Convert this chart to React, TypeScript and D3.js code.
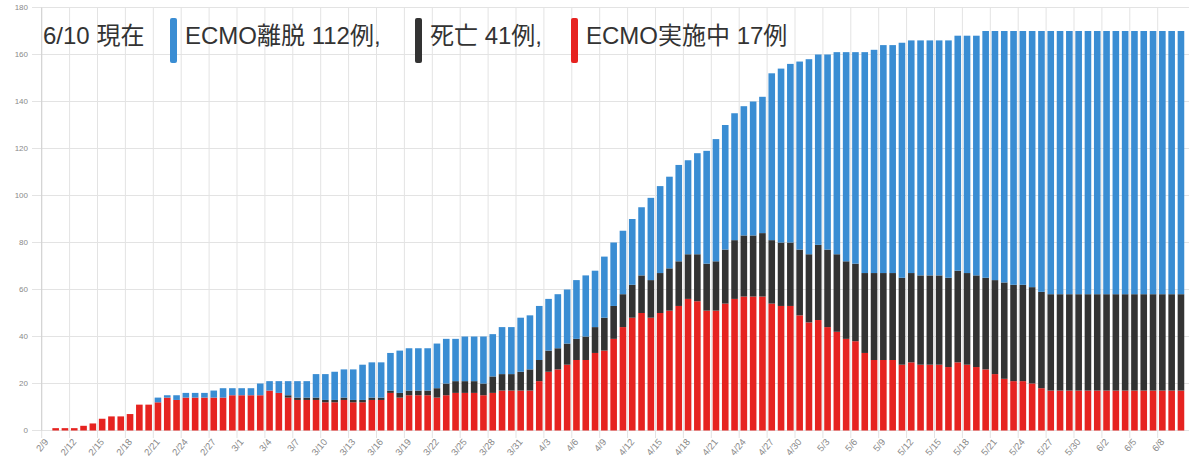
import React from 'react';
import * as d3 from 'd3';

// ECMO実施中 (bottom, red)
const active = [
  0, 1, 1, 1, 2, 3, 5, 6, 6, 7,
  11, 11, 12, 14, 13, 14, 14, 14, 14, 14,
  15, 15, 15, 15, 17, 16, 14, 13, 13, 13,
  12, 12, 13, 12, 12, 13, 13, 16, 14, 15,
  15, 15, 14, 15, 16, 16, 16, 15, 16, 17,
  17, 17, 17, 21, 25, 26, 28, 30, 30, 33,
  34, 39, 44, 48, 50, 48, 50, 51, 53, 56,
  55, 51, 51, 54, 56, 57, 57, 57, 54, 53,
  53, 49, 46, 47, 44, 42, 39, 38, 33, 30,
  30, 30, 28, 29, 28, 28, 28, 27, 29, 28,
  27, 26, 24, 22, 21, 21, 20, 18, 17, 17,
  17, 17, 17, 17, 17, 17, 17, 17, 17, 17,
  17, 17, 17,
];

// 死亡 (middle, black)
const deaths = [
  0, 0, 0, 0, 0, 0, 0, 0, 0, 0,
  0, 0, 0, 0, 0, 0, 0, 0, 0, 0,
  0, 0, 0, 0, 0, 0, 1, 1, 1, 1,
  1, 1, 1, 1, 1, 1, 1, 1, 2, 2,
  2, 2, 4, 5, 5, 5, 5, 5, 7, 7,
  7, 8, 9, 9, 9, 9, 9, 9, 10, 11,
  14, 14, 14, 14, 16, 16, 17, 18, 19, 19,
  20, 20, 21, 23, 25, 26, 26, 27, 27, 27,
  27, 28, 29, 32, 33, 33, 33, 33, 34, 37,
  37, 37, 37, 38, 38, 38, 38, 38, 39, 39,
  39, 39, 40, 41, 41, 41, 41, 41, 41, 41,
  41, 41, 41, 41, 41, 41, 41, 41, 41, 41,
  41, 41, 41,
];

// ECMO離脱 (top, blue)
const weaned = [
  0, 0, 0, 0, 0, 0, 0, 0, 0, 0,
  0, 0, 2, 1, 2, 2, 2, 2, 3, 4,
  3, 3, 3, 5, 4, 5, 6, 7, 7, 10,
  11, 12, 12, 13, 15, 15, 15, 16, 18, 18,
  18, 18, 19, 19, 18, 19, 19, 20, 18, 20,
  20, 23, 23, 23, 22, 23, 23, 25, 26, 24,
  26, 27, 27, 28, 29, 35, 37, 39, 41, 40,
  43, 48, 52, 53, 54, 55, 57, 58, 71, 74,
  76, 80, 83, 81, 83, 86, 89, 90, 94, 95,
  97, 97, 100, 99, 100, 100, 100, 101, 100, 101,
  102, 105, 106, 107, 108, 108, 109, 111, 112, 112,
  112, 112, 112, 112, 112, 112, 112, 112, 112, 112,
  112, 112, 112,
];

const dates = d3.timeDay.range(new Date(2020, 1, 9), new Date(2020, 5, 11));
const fmt = d3.timeFormat('%-m/%-d');
const categories = dates.map((d) => fmt(d));
const tickEvery = 3;
const yTicks = [0, 20, 40, 60, 80, 100, 120, 140, 160, 180];

const title = '6/10 現在';
const legendLabels = ['ECMO離脱 112例,', '死亡 41例,', 'ECMO実施中 17例'];
const seriesKeys = ['active', 'deaths', 'weaned'];

export default function App() {
  const W = 1189;
  const H = 466;
  const colors: Record<string, string> = {
    active: '#e62320',
    deaths: '#333333',
    weaned: '#3a8dd3',
  };
  const x = d3.scaleBand<string>().domain(categories).range([41.7, 1185.6]).padding(0);
  const y = d3.scaleLinear().domain([0, 180]).range([430.5, 7.5]);
  const rows = categories.map((c, i) => ({ cat: c, active: active[i], deaths: deaths[i], weaned: weaned[i] }));
  const stacked = d3.stack<any>().keys(seriesKeys)(rows);
  const bw = 6.6;
  const off = (x.bandwidth() - bw) / 2;
  const tickCats = categories.filter((_, i) => i % tickEvery === 0);
  const font = "'Liberation Sans', Arial, 'Noto Sans CJK JP', sans-serif";
  const legendColors = [colors.weaned, colors.deaths, colors.active];
  const legendSwatchX = [170, 415, 571];
  return (
    <div>
      <style>{`body{margin:0;background:#fff}`}</style>
      <svg width={W} height={H} style={{ display: 'block', background: '#fff' }}>
        {/* horizontal grid */}
        {yTicks.map((t) => (
          <line key={'h' + t} x1={32} x2={W} y1={y(t)} y2={y(t)} stroke="#e3e3e3" strokeWidth={1} />
        ))}
        {/* vertical grid */}
        {tickCats.map((c) => (
          <line key={'v' + c} x1={x(c)!} x2={x(c)!} y1={y(180)} y2={438} stroke="#e3e3e3" strokeWidth={1} />
        ))}
        <line x1={x(categories[0])!} x2={x(categories[0])!} y1={y(180)} y2={y(0)} stroke="#d0d0d0" />
        {/* bars */}
        {stacked.map((s) => (
          <g key={s.key} fill={colors[s.key]}>
            {s.map((d, i) =>
              d[1] - d[0] > 0 ? (
                <rect
                  key={i}
                  x={x(categories[i])! + off}
                  width={bw}
                  y={y(d[1])}
                  height={y(d[0]) - y(d[1])}
                />
              ) : null
            )}
          </g>
        ))}
        {/* y labels */}
        {yTicks.map((t) => (
          <text key={'yl' + t} x={28} y={y(t)} dy="0.35em" textAnchor="end" fontSize={8} fill="#8a8a8a" fontFamily={font}>
            {t}
          </text>
        ))}
        {/* x labels */}
        {tickCats.map((c) => {
          const cx = x(c)! + x.bandwidth() / 2;
          return (
            <text
              key={'xl' + c}
              transform={`translate(${cx},${440}) rotate(-50)`}
              textAnchor="end"
              dy="0.35em"
              fontSize={9.5}
              fill="#8a8a8a"
              fontFamily={font}
            >
              {c}
            </text>
          );
        })}
        {/* legend */}
        <text x={43} y={43.5} fontSize={24} fill="#333" fontFamily={font}>
          {title}
        </text>
        {legendLabels.map((l, i) => (
          <g key={l}>
            <rect x={legendSwatchX[i]} y={18} width={7} height={45} rx={2} fill={legendColors[i]} />
            <text x={legendSwatchX[i] + 15} y={43.5} fontSize={24} fill="#333" fontFamily={font}>
              {l}
            </text>
          </g>
        ))}
      </svg>
    </div>
  );
}
